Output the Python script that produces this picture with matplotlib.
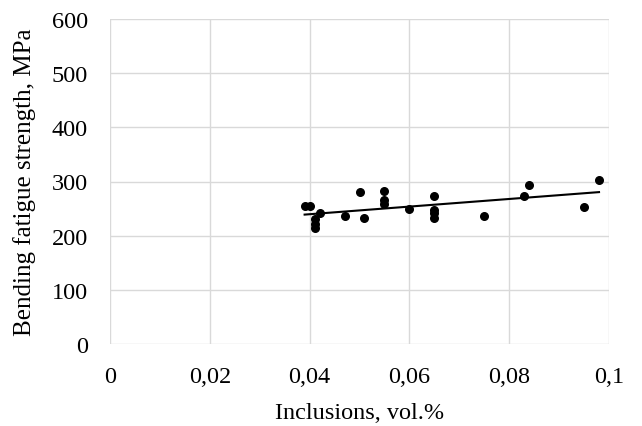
import matplotlib
matplotlib.use("Agg")
import matplotlib.pyplot as plt
import numpy as np

# Inclusion content (vol.%) and bending fatigue strength (MPa)
inclusions = [0.039, 0.040, 0.041, 0.041, 0.041, 0.042, 0.047, 0.050, 0.051,
              0.055, 0.055, 0.055, 0.060, 0.065, 0.065, 0.065, 0.065,
              0.075, 0.083, 0.084, 0.095, 0.098]
strength = [254, 254, 230, 215, 222, 241, 236, 280, 233,
            283, 265, 259, 250, 274, 248, 241, 233,
            236, 273, 293, 253, 302]

x_ticks = [0, 0.02, 0.04, 0.06, 0.08, 0.1]
x_tick_labels = ["0", "0,02", "0,04", "0,06", "0,08", "0,1"]
y_ticks = [0, 100, 200, 300, 400, 500, 600]

plt.rcParams['font.family'] = ['Liberation Serif', 'DejaVu Serif']

fig = plt.figure(figsize=(6.42, 4.27), dpi=100)
ax = fig.add_axes([110 / 642, 1 - 345 / 427, 499 / 642, 325 / 427])

x = np.array(inclusions)
y = np.array(strength)
ax.scatter(x, y, s=30, color='black', zorder=3)

# linear trend line over data range
k, b = np.polyfit(x, y, 1)
xl = np.array([x.min(), x.max()])
ax.plot(xl, k * xl + b, color='black', lw=1.5, zorder=2)

ax.set_xlim(0, 0.1)
ax.set_ylim(0, 600)
ax.set_xticks(x_ticks)
ax.set_xticklabels(x_tick_labels)
ax.set_yticks(y_ticks)
ax.grid(color='#d9d9d9', lw=1)
ax.set_axisbelow(True)
for s in ax.spines.values():
    s.set_visible(False)
ax.tick_params(length=0, labelsize=17.5)
ax.tick_params(axis='x', pad=16)
ax.tick_params(axis='y', pad=16)

ax.set_xlabel('Inclusions, vol.%', fontsize=17.5, labelpad=11)
ax.set_ylabel('Bending fatigue strength, MPa', fontsize=18, labelpad=11)

fig.savefig('out.png', dpi=100)
